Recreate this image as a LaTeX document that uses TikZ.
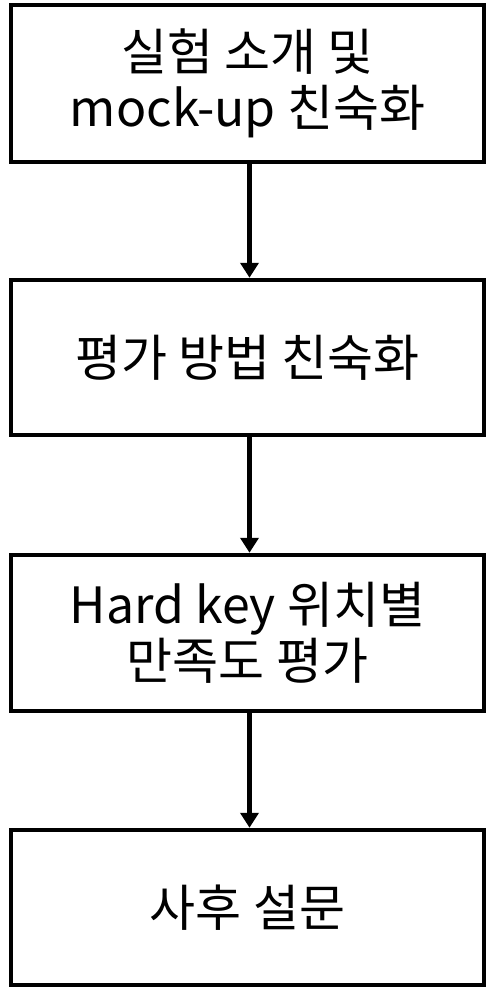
\documentclass[tikz,border=0pt]{standalone}
\usepackage{fontspec}
\setmainfont{Noto Sans CJK KR}
\usetikzlibrary{arrows.meta}
\begin{document}
\begin{tikzpicture}[x=1pt,y=-1pt,
  stepbox/.style={draw=black,line width=4.5pt,fill=white,minimum width=473pt,inner sep=0pt,align=center,font=\fontsize{50}{56}\selectfont},
  flow/.style={line width=4.5pt,-{Triangle[width=18pt,length=15pt]}}]
\useasboundingbox (0,0) rectangle (485,987);
\node[stepbox,minimum height=157pt] (b1) at (247.5,83.5) {실험 소개 및\\mock-up 친숙화};
\node[stepbox,minimum height=155pt] (b2) at (247.5,357.5) {평가 방법 친숙화};
\node[stepbox,minimum height=156pt] (b3) at (247.5,633) {Hard key 위치별\\만족도 평가};
\node[stepbox,minimum height=155pt] (b4) at (247.5,907.5) {사후 설문};
\draw[flow] (b1.south -| 249.5,0) -- (b2.north -| 249.5,0);
\draw[flow] (b2.south -| 249.5,0) -- (b3.north -| 249.5,0);
\draw[flow] (b3.south -| 249.5,0) -- (b4.north -| 249.5,0);
\end{tikzpicture}
\end{document}
